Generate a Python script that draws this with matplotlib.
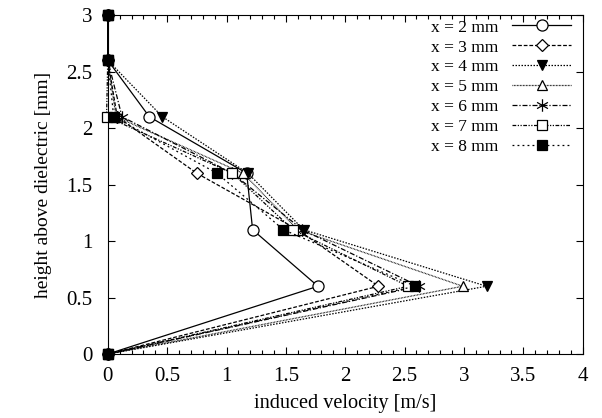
import matplotlib
matplotlib.use('Agg')
import matplotlib.pyplot as plt
from matplotlib.ticker import MultipleLocator, FuncFormatter
from matplotlib.path import Path

# heights above dielectric [mm]
heights = [0.0, 0.6, 1.1, 1.6, 2.1, 2.6, 3.0]

# induced velocity [m/s] at each height, one list per streamwise position
v_x2 = [0.0, 1.77, 1.22, 1.17, 0.35, 0.0, 0.0]
v_x3 = [0.0, 2.28, 1.60, 0.75, 0.08, 0.0, 0.0]
v_x4 = [0.0, 3.19, 1.65, 1.18, 0.46, 0.0, 0.0]
v_x5 = [0.0, 2.99, 1.60, 1.14, 0.07, 0.0, 0.0]
v_x6 = [0.0, 2.62, 1.64, 1.05, 0.12, 0.0, 0.0]
v_x7 = [0.0, 2.53, 1.56, 1.05, -0.01, 0.0, 0.0]
v_x8 = [0.0, 2.59, 1.48, 0.92, 0.05, 0.0, 0.0]

labels = ['x = 2 mm', 'x = 3 mm', 'x = 4 mm', 'x = 5 mm',
          'x = 6 mm', 'x = 7 mm', 'x = 8 mm']
series = [v_x2, v_x3, v_x4, v_x5, v_x6, v_x7, v_x8]

# gnuplot style asterisk: vertical bar plus two diagonals
star = Path([(0, -1), (0, 1), (-0.87, -0.5), (0.87, 0.5),
             (-0.87, 0.5), (0.87, -0.5)],
            [Path.MOVETO, Path.LINETO] * 3)

styles = [
    dict(ls='-', marker='o', mfc='white', ms=8),
    dict(ls=(0, (3, 1.5)), marker='D', mfc='white', ms=6),
    dict(ls=(0, (1.2, 1.2)), marker='v', mfc='black', ms=7.5),
    dict(ls=(0, (0.6, 0.6)), marker='^', mfc='white', ms=7.5),
    dict(ls=(0, (4, 1.5, 1, 1.5)), marker=star, mfc='black', ms=9),
    dict(ls=(0, (3, 1.2, 1, 1.2, 1, 1.2)), marker='s', mfc='white', ms=7.5),
    dict(ls=(0, (1.5, 2.5)), marker='s', mfc='black', ms=7.5),
]

plt.rcParams['font.family'] = ['Liberation Serif', 'DejaVu Serif']

fig = plt.figure(figsize=(6.02, 4.18), dpi=100)
ax = fig.add_axes([0.179, 0.153, 0.789, 0.811])

for v, lab, st in zip(series, labels, styles):
    ax.plot(v, heights, color='black', lw=0.9, mec='black', mew=0.9,
            label=lab, clip_on=False, **st)

ax.set_xlim(0, 4)
ax.set_ylim(0, 3)
ax.xaxis.set_major_locator(MultipleLocator(0.5))
ax.xaxis.set_minor_locator(MultipleLocator(0.1))
ax.yaxis.set_major_locator(MultipleLocator(0.5))
ax.tick_params(which='both', direction='in', top=True, right=True,
               labelsize=15, width=0.8)
ax.tick_params(which='major', length=5)
ax.tick_params(axis='x', which='major', pad=9)
ax.tick_params(axis='y', which='major', pad=11)
ax.tick_params(which='minor', length=3)
ax.tick_params(axis='y', which='minor', left=False, right=False)
ax.xaxis.set_major_formatter(FuncFormatter(lambda v, p: f'{v:g}'))
ax.yaxis.set_major_formatter(FuncFormatter(lambda v, p: f'{v:g}'))

ax.set_xlabel('induced velocity [m/s]', fontsize=14.6, labelpad=6)
ax.set_ylabel('height above dielectric [mm]', fontsize=14, labelpad=10)

for s in ax.spines.values():
    s.set_linewidth(0.8)

ax.legend(loc='upper right', frameon=False, markerfirst=False,
          fontsize=12.5, handlelength=3.4, labelspacing=0.22,
          borderaxespad=0.0, borderpad=0.25, handletextpad=0.8,
          bbox_to_anchor=(0.985, 1.0))

plt.savefig('out.png', dpi=100)
